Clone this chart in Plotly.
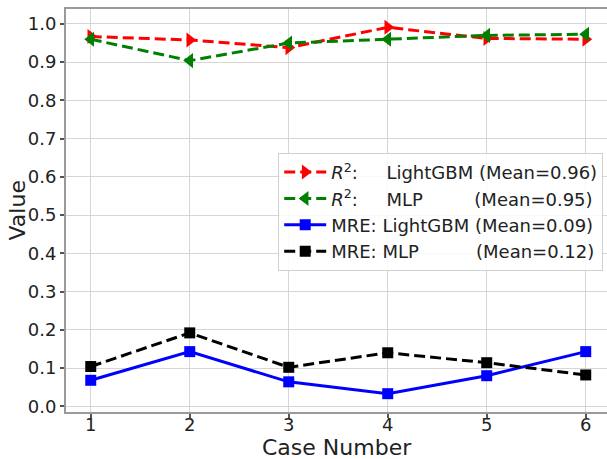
import plotly.graph_objects as go

cases = [1, 2, 3, 4, 5, 6]
r2_lgbm = [0.967, 0.958, 0.938, 0.991, 0.962, 0.960]
r2_mlp = [0.960, 0.904, 0.950, 0.960, 0.970, 0.973]
mre_lgbm = [0.068, 0.143, 0.064, 0.033, 0.080, 0.143]
mre_mlp = [0.104, 0.192, 0.102, 0.140, 0.114, 0.082]

NB = "\u00a0"
names = [
    "<i>R</i><sup>2</sup>:" + NB * 5 + "LightGBM (Mean=0.96)",
    "<i>R</i><sup>2</sup>:" + NB * 5 + "MLP" + NB * 9 + "(Mean=0.95)",
    "MRE: LightGBM (Mean=0.09)",
    "MRE: MLP" + NB * 10 + "(Mean=0.12)",
]

FONT = "DejaVu Sans"
dash = "11px,5px"

fig = go.Figure()
fig.add_trace(go.Scatter(x=cases, y=r2_lgbm, mode="lines+markers", name=names[0],
                         line=dict(color="red", width=3, dash=dash),
                         marker=dict(symbol="triangle-right", size=13, color="red")))
fig.add_trace(go.Scatter(x=cases, y=r2_mlp, mode="lines+markers", name=names[1],
                         line=dict(color="green", width=3, dash=dash),
                         marker=dict(symbol="triangle-left", size=13, color="green")))
fig.add_trace(go.Scatter(x=cases, y=mre_lgbm, mode="lines+markers", name=names[2],
                         line=dict(color="blue", width=3),
                         marker=dict(symbol="square", size=11, color="blue")))
fig.add_trace(go.Scatter(x=cases, y=mre_mlp, mode="lines+markers", name=names[3],
                         line=dict(color="black", width=3, dash=dash),
                         marker=dict(symbol="square", size=11, color="black")))

axis_common = dict(
    showgrid=True, gridcolor="#d6d6d6", gridwidth=1,
    showline=True, linecolor="#9a9a9a", linewidth=2,
    ticks="outside", ticklen=4, tickwidth=1.5, tickcolor="#555555",
    tickfont=dict(family=FONT, size=18, color="#222222"),
    zeroline=False, automargin=False,
)

fig.update_layout(
    width=607, height=459,
    margin=dict(l=66, r=0, t=9, b=47),
    paper_bgcolor="white", plot_bgcolor="white",
    font=dict(family=FONT, color="#222222"),
    xaxis=dict(range=[0.75, 6.215], tickvals=cases, mirror=True,
               ticklabelstandoff=-9, **axis_common),
    yaxis=dict(range=[-0.0149, 1.039], tickvals=[i / 10 for i in range(11)],
               tickformat=".1f", mirror=False, **axis_common),
    legend=dict(x=0.993, y=0.643, xanchor="right", yanchor="top",
                bgcolor="rgba(255,255,255,0.85)", bordercolor="#d0d0d0", borderwidth=1,
                font=dict(family=FONT, size=18, color="#222222"),
                itemwidth=42, tracegroupgap=0),
    showlegend=True,
    annotations=[
        dict(text="Case Number", xref="paper", yref="paper", x=0.5, y=0,
             xanchor="center", yanchor="middle", yshift=-35, showarrow=False,
             font=dict(family=FONT, size=22, color="#222222")),
        dict(text="Value", xref="paper", yref="paper", x=0, y=0.5,
             xanchor="center", yanchor="middle", xshift=-49, textangle=-90,
             showarrow=False, font=dict(family=FONT, size=22, color="#222222")),
    ],
)

fig.write_html("out.html")
